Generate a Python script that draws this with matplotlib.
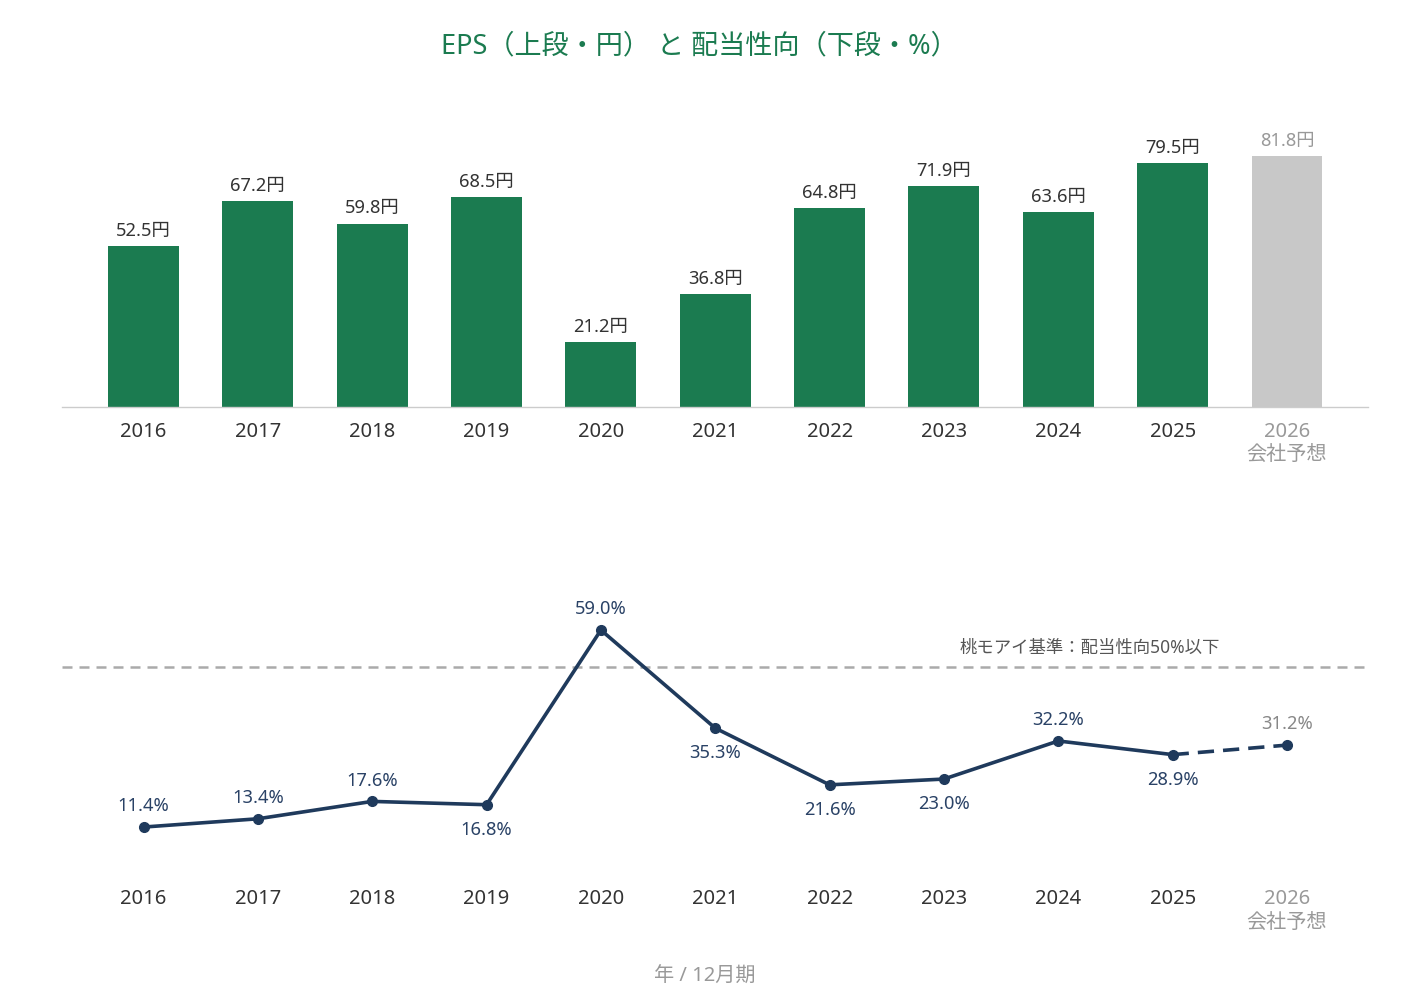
import matplotlib
matplotlib.use("Agg")
import matplotlib.pyplot as plt

plt.rcParams['font.family'] = ['Noto Sans', 'Noto Sans CJK JP', 'DejaVu Sans']

years = ["2016", "2017", "2018", "2019", "2020", "2021", "2022", "2023", "2024", "2025", "2026"]
forecast_label = "会社予想"
eps = [52.5, 67.2, 59.8, 68.5, 21.2, 36.8, 64.8, 71.9, 63.6, 79.5, 81.8]
payout = [11.4, 13.4, 17.6, 16.8, 59.0, 35.3, 21.6, 23.0, 32.2, 28.9, 31.2]
payout_label_below = [False, False, False, True, False, True, True, True, False, True, False]
threshold = 50
threshold_text = "桃モアイ基準：配当性向50%以下"
title = "EPS（上段・円） と 配当性向（下段・%）"
xlabel_text = "年 / 12月期"

GREEN = "#1b7b50"
GRAY_BAR = "#c8c8c8"
NAVY = "#1f3a5c"
DARK = "#333333"
LIGHT = "#999999"

fig = plt.figure(figsize=(14.10, 10.05), dpi=100)
xlim = (-0.713, 10.708)
x = list(range(len(years)))
tick_labels = years[:-1] + [years[-1] + "\n" + forecast_label]

# --- top: EPS bars
ax1 = fig.add_axes([0.04397, 0.595, 0.9262, 0.3052])
colors = [GREEN] * (len(years) - 1) + [GRAY_BAR]
ax1.bar(x, eps, width=0.62, color=colors, zorder=2)
ax1.set_xlim(*xlim)
ax1.set_ylim(0, 100)
for s in ["top", "right", "left"]:
    ax1.spines[s].set_visible(False)
ax1.spines["bottom"].set_color("#cccccc")
ax1.spines["bottom"].set_linewidth(1.0)
ax1.set_yticks([])
ax1.set_xticks(x)
ax1.set_xticklabels(tick_labels, fontsize=14.5, color=DARK, linespacing=1.25)
ax1.tick_params(axis="x", length=0, pad=10.5)
ax1.get_xticklabels()[-1].set_color(LIGHT)
for i, v in enumerate(eps):
    ax1.annotate(f"{v:.1f}円", (i, v), xytext=(0, 11), textcoords="offset points",
                 ha="center", va="center", fontsize=13.2,
                 color=LIGHT if i == len(eps) - 1 else DARK)

# --- bottom: payout ratio line
ax2 = fig.add_axes([0.04397, 0.1301, 0.9262, 0.2883])
ax2.set_xlim(*xlim)
ax2.set_ylim(0, 70)
for s in ax2.spines.values():
    s.set_visible(False)
ax2.set_yticks([])
ax2.set_xticks(x)
ax2.set_xticklabels(tick_labels, fontsize=14.5, color=DARK, linespacing=1.25)
ax2.tick_params(axis="x", length=0, pad=10.5)
ax2.get_xticklabels()[-1].set_color(LIGHT)

ax2.axhline(threshold, color="#aaaaaa", lw=1.8, linestyle=(0, (4, 2.8)), zorder=1)
ax2.text(9.41, threshold + 4.8, threshold_text, ha="right", va="center",
         fontsize=12.5, color="#555555")

ax2.plot(x[:-1], payout[:-1], color=NAVY, lw=2.6, marker="o", ms=7, zorder=3)
ax2.plot(x[-2:], payout[-2:], color=NAVY, lw=2.6, linestyle=(0, (4.5, 2.5)), zorder=3)
ax2.plot(x[-1:], payout[-1:], color=NAVY, marker="o", ms=7, zorder=3)
for i, v in enumerate(payout):
    off = -18 if payout_label_below[i] else 15
    ax2.annotate(f"{v:.1f}%", (i, v), xytext=(0, off), textcoords="offset points",
                 ha="center", va="center", fontsize=13.2,
                 color="#888888" if i == len(payout) - 1 else "#2a4266")

fig.text(0.496, 1 - 46 / 1005, title, ha="center", va="center", fontsize=19.5, color=GREEN)
fig.text(0.5, 1 - 977 / 1005, xlabel_text, ha="center", va="center", fontsize=14.5, color=LIGHT)

fig.savefig("out.png", dpi=100, facecolor="white")
